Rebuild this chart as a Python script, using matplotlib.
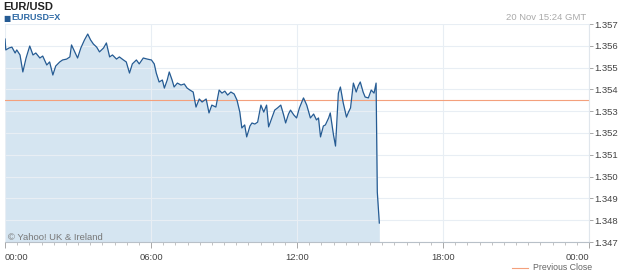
import matplotlib
matplotlib.use("Agg")
import matplotlib.pyplot as plt
from matplotlib.ticker import MultipleLocator, FixedLocator
from matplotlib.lines import Line2D

plt.rcParams['font.family'] = ['Liberation Sans', 'DejaVu Sans']

# minutes since 00:00 GMT, 20 Nov
minutes = [0, 2, 10, 17, 25, 29, 37, 44, 52, 61, 69, 76, 86, 93, 103, 110, 118, 125,
           135, 142, 152, 160, 164, 172, 179, 187, 196, 204, 211, 218, 226, 233, 243,
           250, 258, 265, 275, 282, 292, 299, 307, 314, 324, 331, 341, 351, 361, 368,
           373, 380, 388, 393, 400, 405, 412, 417, 425, 434, 442, 449, 456, 464, 471,
           479, 486, 496, 503, 510, 520, 528, 535, 542, 549, 557, 565, 572, 579, 584,
           591, 596, 604, 609, 616, 623, 631, 638, 645, 650, 658, 665, 672, 680, 687,
           692, 699, 704, 712, 719, 726, 736, 744, 753, 761, 768, 773, 778, 785, 790,
           798, 802, 810, 815, 822, 827, 834, 842, 847, 852, 859, 866, 871, 876, 883,
           888, 896, 903, 910, 915, 918, 923]
rates = [1.35631, 1.35581, 1.35590, 1.35594, 1.35567, 1.35581, 1.35558, 1.35480,
         1.35544, 1.35599, 1.35558, 1.35567, 1.35544, 1.35553, 1.35512, 1.35526,
         1.35466, 1.35507, 1.35526, 1.35535, 1.35539, 1.35549, 1.35604, 1.35572,
         1.35544, 1.35590, 1.35627, 1.35654, 1.35627, 1.35608, 1.35594, 1.35572,
         1.35590, 1.35613, 1.35549, 1.35558, 1.35539, 1.35549, 1.35535, 1.35526,
         1.35475, 1.35517, 1.35535, 1.35517, 1.35544, 1.35539, 1.35535, 1.35517,
         1.35475, 1.35434, 1.35443, 1.35406, 1.35443, 1.35480, 1.35443, 1.35411,
         1.35429, 1.35420, 1.35425, 1.35406, 1.35397, 1.35388, 1.35319, 1.35356,
         1.35342, 1.35356, 1.35292, 1.35328, 1.35319, 1.35397, 1.35383, 1.35392,
         1.35374, 1.35388, 1.35379, 1.35351, 1.35296, 1.35223, 1.35237, 1.35182,
         1.35232, 1.35246, 1.35241, 1.35250, 1.35328, 1.35296, 1.35328, 1.35228,
         1.35269, 1.35305, 1.35315, 1.35328, 1.35283, 1.35246, 1.35287, 1.35305,
         1.35283, 1.35269, 1.35315, 1.35361, 1.35328, 1.35269, 1.35287, 1.35260,
         1.35269, 1.35182, 1.35232, 1.35237, 1.35269, 1.35292, 1.35191, 1.35140,
         1.35383, 1.35411, 1.35338, 1.35273, 1.35296, 1.35315, 1.35429, 1.35388,
         1.35416, 1.35434, 1.35388, 1.35365, 1.35361, 1.35397, 1.35383, 1.35429,
         1.34929, 1.34787]
prev_close = 1.3535
y_ticks = [1.347, 1.348, 1.349, 1.350, 1.351, 1.352, 1.353, 1.354, 1.355, 1.356, 1.357]
x_ticks = [0, 360, 720, 1080, 1440]
x_labels = ["00:00", "06:00", "12:00", "18:00", "00:00"]

line_col = "#255b93"
fill_col = "#d5e5f1"
grid_col = "#e8eef4"
text_col = "#444444"

fig = plt.figure(figsize=(6.2, 2.76), dpi=100)
ax = fig.add_axes([5 / 620, 34 / 276, 584 / 620, 218 / 276])

ax.fill_between(minutes, rates, y_ticks[0], color=fill_col, lw=0, zorder=1)
ax.plot(minutes, rates, color=line_col, lw=0.9, zorder=3)
ax.axhline(prev_close, color="#f4a07c", lw=0.8, zorder=2)

ax.set_xlim(0, 1440)
ax.set_ylim(y_ticks[0], y_ticks[-1])
ax.xaxis.set_major_locator(FixedLocator(x_ticks))
ax.xaxis.set_minor_locator(MultipleLocator(30))
ax.set_xticklabels(x_labels)
ax.set_yticks(y_ticks)
ax.set_yticklabels(["%.3f" % v for v in y_ticks])
ax.yaxis.tick_right()
ax.grid(True, which="major", color=grid_col, lw=0.8, zorder=0)

for s in ["top", "left"]:
    ax.spines[s].set_visible(False)
ax.spines["right"].set_color("#e0e6ec")
ax.spines["bottom"].set_color("#b8c0c8")
ax.tick_params(axis="y", length=3, width=0.6, color="#999999", labelsize=6.8,
               labelcolor=text_col, pad=1)
ax.tick_params(axis="x", which="major", length=4, width=0.6, color="#999999",
               labelsize=6.8, labelcolor=text_col, pad=4)
ax.tick_params(axis="x", which="minor", length=2, width=0.5, color="#aaaaaa")

# first/last x labels kept inside the figure
xl = ax.get_xticklabels()
xl[0].set_horizontalalignment("left")
xl[-1].set_horizontalalignment("right")

fig.text(3 / 620, 1 - 7 / 276, "EUR/USD", fontsize=8, fontweight="bold",
         color="#222222", va="center")
fig.text(3 / 620, 1 - 18 / 276, "\u25A0", fontsize=5.5, color=line_col, va="center",
         family="DejaVu Sans")
fig.text(11 / 620, 1 - 18 / 276, "EURUSD=X", fontsize=6.5, fontweight="bold",
         color="#2f6aa5", va="center")
fig.text(586 / 620, 1 - 18 / 276, "20 Nov 15:24 GMT", fontsize=6.8, color="#aaaaaa",
         ha="right", va="center")
fig.text(8 / 620, 1 - 237 / 276, "\u00A9 Yahoo! UK & Ireland", fontsize=6.8,
         color="#777777", va="center")

fig.add_artist(Line2D([512 / 620, 528 / 620], [1 - 268 / 276, 1 - 268 / 276],
                      color="#f4a07c", lw=0.8))
fig.text(533 / 620, 1 - 268 / 276, "Previous Close", fontsize=6.3, color="#666666",
         ha="left", va="center")

fig.savefig("out.png", dpi=100)
